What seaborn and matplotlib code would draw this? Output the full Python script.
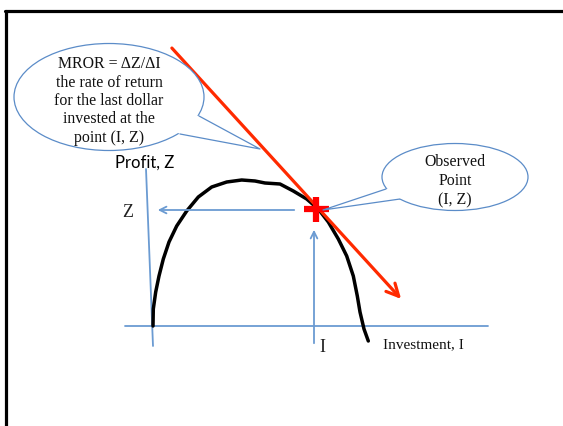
import numpy as np
import pandas as pd
import seaborn as sns
import matplotlib
matplotlib.use("Agg")
import matplotlib.pyplot as plt
from matplotlib.patches import Ellipse, Polygon

# ---- data (diagram units: investment I, profit Z) ----
curve_I = [0, 0.3, 2.7, 6, 10.3, 16, 23.7, 33.7, 45.3, 58.7, 73.7, 88.7, 102, 112, 127,
           140.3, 153.7, 165.3, 175.3, 185.3, 193.7, 200.3, 204.3, 207, 211, 215.3]
curve_Z = [0, 17, 34, 50, 67, 84, 100, 115, 129, 139, 144, 146, 145, 143, 142,
           135, 127, 117, 104, 87, 70, 50, 30, 14, -3, -15]
obs_I, obs_Z = 163, 116
tangent_start = (17, 280)
tangent_end = (250, 25)
bubble1_text = "MROR = \u0394Z/\u0394I\nthe rate of return\nfor the last dollar\ninvested at the\npoint (I, Z)"
bubble2_text = "Observed\nPoint\n(I, Z)"
ylabel_text = "Profit, Z"
xlabel_text = "Investment, I"

sns.set_style("white")
plt.rcParams['font.family'] = ['DejaVu Sans']

BLUE = "#6b9bd2"
EDGE = "#5b8cc8"
RED = "#ff2a00"
SERIF = ['Liberation Serif', 'DejaVu Serif']
SANS = ['Lato', 'DejaVu Sans']

fig = plt.figure(figsize=(5.63, 4.27), dpi=100)
ax = fig.add_axes([0, 0, 1, 1])

# slide frame (top and left)
fig.add_artist(plt.Line2D([5 / 563, 1.0], [1 - 12 / 427, 1 - 12 / 427], color='black', lw=2.3, transform=fig.transFigure))
fig.add_artist(plt.Line2D([6 / 563, 6 / 563], [1 - 12 / 427, 0], color='black', lw=2.3, transform=fig.transFigure))

# axes lines
ax.plot([-28, 335], [0, 0], color=BLUE, lw=1.3)
ax.plot([-7, 0], [157, -20], color=BLUE, lw=1.3)

# guide arrows
ax.annotate("", xy=(2, obs_Z), xytext=(144, obs_Z),
            arrowprops=dict(arrowstyle='->', color=BLUE, lw=1.3, mutation_scale=12))
ax.annotate("", xy=(161, 99), xytext=(161, -20),
            arrowprops=dict(arrowstyle='->', color=BLUE, lw=1.3, mutation_scale=12))

# profit curve
df = pd.DataFrame({"I": curve_I, "Z": curve_Z})
sns.lineplot(data=df, x="I", y="Z", sort=False, color='black', lw=2.5, ax=ax,
             solid_joinstyle='round', solid_capstyle='round')
ax.set_xlim(-153, 410)
ax.set_ylim(-100, 327)
ax.axis('off')

# tangent red arrow
ax.annotate("", xy=tangent_end, xytext=tangent_start,
            arrowprops=dict(arrowstyle='->', color=RED, lw=2.3, mutation_scale=22))

# observed point
ax.plot([obs_I], [obs_Z + 1], marker='+', markersize=18, mew=4.5, color='#ff0000', zorder=5)


def bubble(center, w, h, tail, text, text_y, fontsize, ls):
    ell = Ellipse(center, w, h, facecolor='white', edgecolor=EDGE, lw=0.9, zorder=6)
    ax.add_patch(ell)
    b1, tip, b2 = tail
    cx, cy = center
    inner1 = (b1[0] + (cx - b1[0]) * 0.08, b1[1] + (cy - b1[1]) * 0.08)
    inner2 = (b2[0] + (cx - b2[0]) * 0.08, b2[1] + (cy - b2[1]) * 0.08)
    ax.add_patch(Polygon([inner1, b1, tip, b2, inner2], closed=True, facecolor='white', edgecolor='none', zorder=7))
    ax.plot([b1[0], tip[0], b2[0]], [b1[1], tip[1], b2[1]], color=EDGE, lw=0.9, zorder=8)
    ax.text(cx, text_y, text, ha='center', va='center', fontsize=fontsize, family=SERIF,
            linespacing=ls, color='#111111', zorder=9)


bubble((-44, 229), 190, 107, [(46, 210), (107, 177), (27, 192)], bubble1_text, 226, 11.4, 1.2)
bubble((302, 149), 146, 67, [(233, 137), (170, 116), (247, 127)], bubble2_text, 146, 11.4, 1.27)

# labels
ax.text(-8, 164, ylabel_text, ha='center', va='center', fontsize=12, family=SANS, color='black')
ax.text(-25, 114, "Z", ha='center', va='center', fontsize=13, family=SERIF, color='#222222')
ax.text(169, -21, "I", ha='center', va='center', fontsize=13, family=SERIF, color='#222222')
ax.text(230, -18, xlabel_text, ha='left', va='center', fontsize=11, family=SERIF, color='#111111')

fig.savefig("out.png", dpi=100)
